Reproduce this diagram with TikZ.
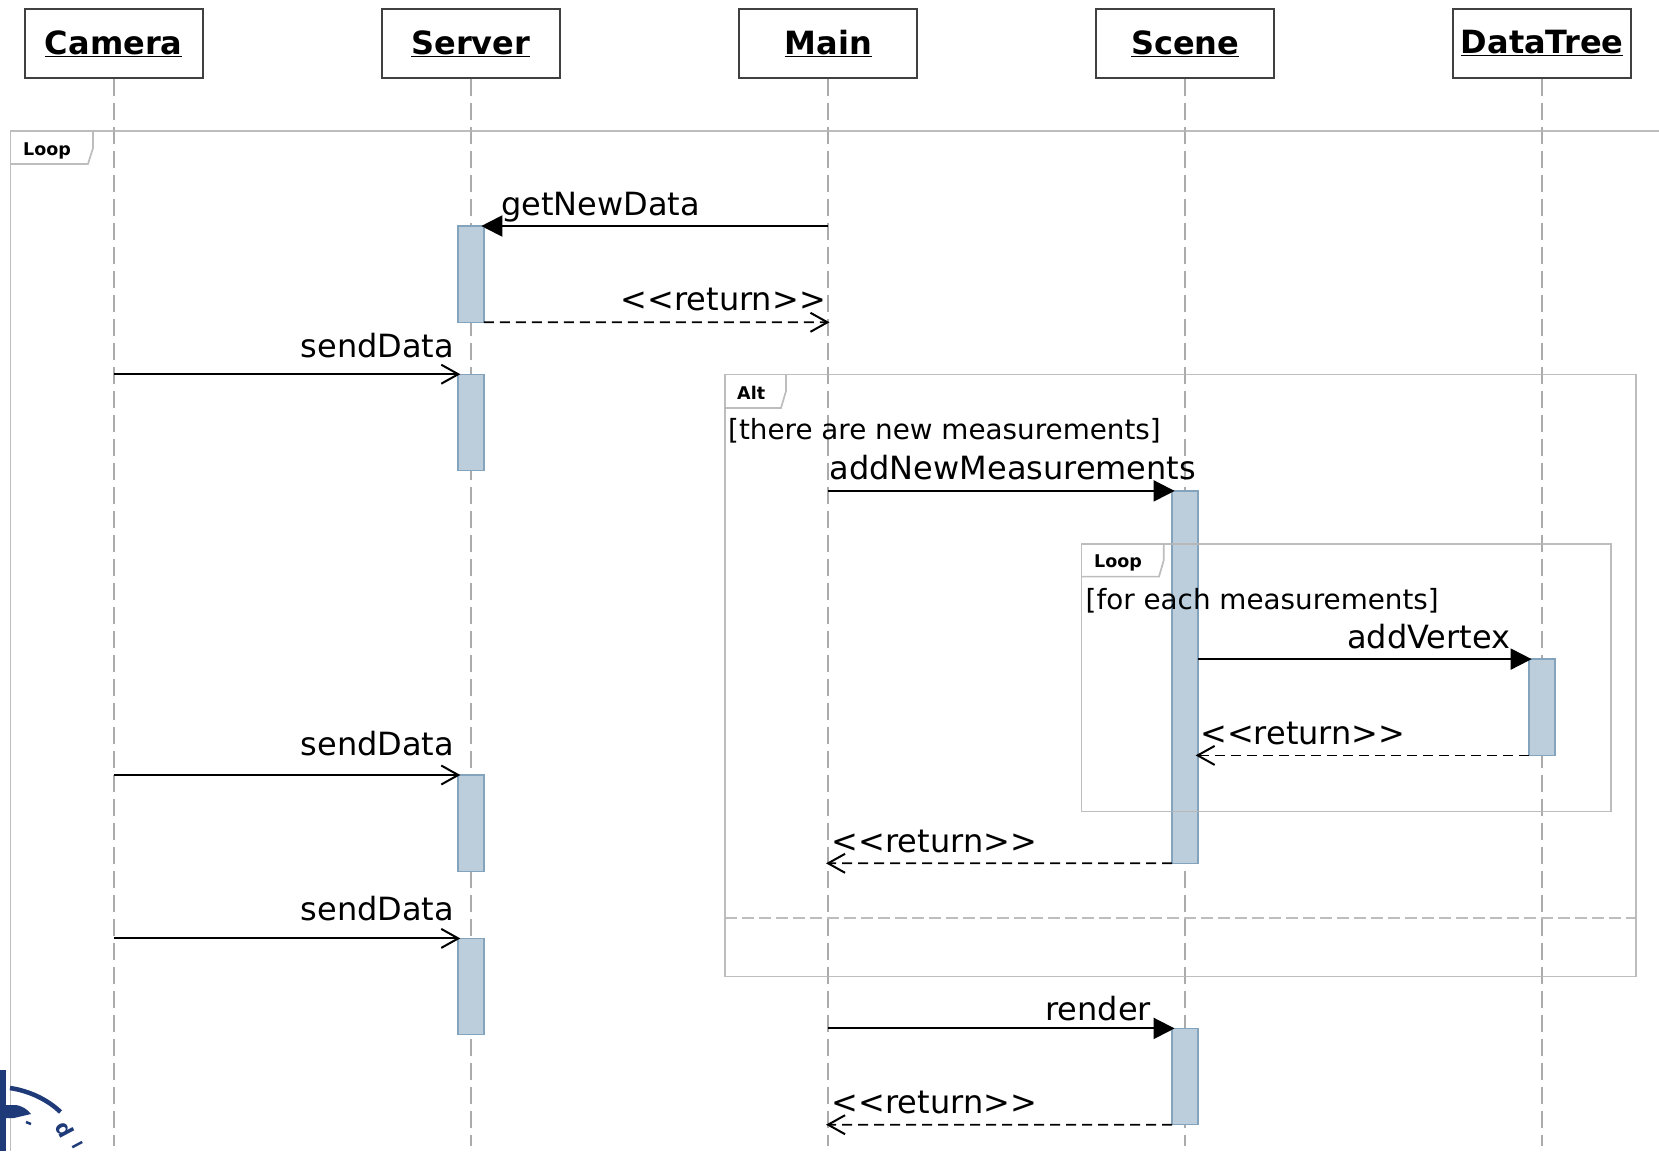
\documentclass[tikz,border=0pt]{standalone}
\usepackage{fontspec}
\setmainfont{DejaVu Sans}
\usetikzlibrary{arrows.meta}
\definecolor{framegray}{HTML}{B6B6B6}
\definecolor{lifegray}{HTML}{ABABAB}
\definecolor{boxgray}{HTML}{404040}
\definecolor{actfill}{HTML}{BCCEDC}
\definecolor{actdraw}{HTML}{84A3BD}
\definecolor{sealblue}{HTML}{1F3A78}

\begin{document}
\begin{tikzpicture}[
    x=1pt, y=-1pt,
    actor/.style={rectangle, draw=boxgray, line width=1.8pt, fill=white, minimum width=178pt, minimum height=69pt, inner sep=0pt, font=\fontsize{32}{32}\selectfont\bfseries},
    lifeline/.style={draw=lifegray, line width=2pt, dash pattern=on 17pt off 7pt},
    activation/.style={rectangle, draw=actdraw, line width=1.4pt, fill=actfill, minimum width=26pt, inner sep=0pt, outer sep=0pt, anchor=north},
    frameline/.style={draw=framegray, line width=1.7pt, draw opacity=0.9},
    syncmsg/.style={line width=2pt, shorten >=-2.5pt, -{Triangle[length=21pt,width=21pt]}},
    asyncmsg/.style={line width=2pt, shorten >=-2.5pt, -{Straight Barb[length=17pt,width=19pt,line width=2pt]}},
    returnmsg/.style={line width=1.8pt, dash pattern=on 10pt off 6pt, -{Straight Barb[length=17pt,width=19pt,line width=2pt]}},
    msglabel/.style={anchor=base west, inner sep=0pt, font=\fontsize{32}{32}\selectfont},
    guardlabel/.style={anchor=base west, inner sep=0pt, font=\fontsize{27.8}{28}\selectfont},
    framelabel/.style={anchor=base west, inner sep=0pt, font=\fontsize{17.5}{18}\selectfont\bfseries},
    seal/.style={sealblue, line width=4.5pt},
    ]
    \useasboundingbox (0,0) rectangle (1659,1151);

    %Actors
    \node[actor] at (113.7,43.4) (camera) {\underline{Camera}};
    \node[actor] at (470.8,43.4) (server) {\underline{Server}};
    \node[actor] at (828.3,43.4) (main) {\underline{Main}};
    \node[actor] at (1185.1,43.4) (scene) {\underline{Scene}};
    \node[actor] at (1542.1,43.4) (datatree) {\underline{DataTree}};

    %Lifeline ends
    \coordinate (cameraEnd) at (113.7,1146);
    \coordinate (serverEnd) at (470.8,1146);
    \coordinate (mainEnd) at (828.3,1146);
    \coordinate (sceneEnd) at (1185.1,1146);
    \coordinate (datatreeEnd) at (1542.1,1146);

    %Lifelines
    \draw[lifeline] (camera.south) -- (cameraEnd);
    \draw[lifeline] (server.south) -- (serverEnd);
    \draw[lifeline] (main.south) -- (mainEnd);
    \draw[lifeline] (scene.south) -- (sceneEnd);
    \draw[lifeline] (datatree.south) -- (datatreeEnd);

    %Activations
    \node[activation, minimum height=96.3pt] at (470.8,226) (serverA) {};
    \node[activation, minimum height=96.3pt] at (470.8,374.2) (serverB) {};
    \node[activation, minimum height=96.3pt] at (470.8,775) (serverC) {};
    \node[activation, minimum height=96.3pt] at (470.8,938.4) (serverD) {};
    \node[activation, minimum height=372.4pt] at (1185.1,490.9) (sceneA) {};
    \node[activation, minimum height=96.3pt] at (1185.1,1028.4) (sceneB) {};
    \node[activation, minimum height=96.3pt] at (1542.1,659.1) (datatreeA) {};

    %Frames
    \draw[frameline] (1659,131) -- (10.6,131) -- (10.6,1151);
    \draw[frameline] (93,131) -- (93,148) -- (88,164) -- (10.6,164);
    \draw[frameline] (724.7,374.5) rectangle (1635.7,976.5);
    \draw[frameline] (786,374.5) -- (786,391) -- (781,408) -- (724.7,408);
    \draw[frameline, dash pattern=on 12pt off 5pt] (724.7,918.3) -- (1635.7,918.3);
    \draw[frameline] (1081.6,543.8) rectangle (1611.3,811.5);
    \draw[frameline] (1163.8,543.8) -- (1163.8,560) -- (1159,576.6) -- (1081.6,576.6);

    %Frame labels
    \node[framelabel] at (23,155.5) (outerTag) {Loop};
    \node[framelabel] at (737,399.5) (altTag) {Alt};
    \node[framelabel] at (1094,567.5) (innerTag) {Loop};
    \node[guardlabel] at (728,439) (altGuard) {[there are new measurements]};
    \node[guardlabel] at (1085.5,609.4) (innerGuard) {[for each measurements]};

    %Message ends on lifelines
    \coordinate (getStart) at (828.3,226);
    \coordinate (getReturn) at (829.5,322.3);
    \coordinate (sendA) at (113.7,374.2);
    \coordinate (addStart) at (828.3,490.9);
    \coordinate (sendB) at (113.7,775);
    \coordinate (addReturn) at (826,863.3);
    \coordinate (sendC) at (113.7,938.4);
    \coordinate (renderStart) at (828.3,1028.4);
    \coordinate (renderReturn) at (826,1124.7);

    %Messages
    \draw[syncmsg] (getStart) -- (serverA.north east);
    \draw[returnmsg] (serverA.south east) -- (getReturn);
    \draw[asyncmsg] (sendA) -- (serverB.north west);
    \draw[syncmsg] (addStart) -- (sceneA.north west);
    \draw[syncmsg] (sceneA.east |- datatreeA.north) -- (datatreeA.north west);
    \draw[returnmsg, shorten >=-2.5pt] (datatreeA.south west) -- (sceneA.east |- datatreeA.south);
    \draw[asyncmsg] (sendB) -- (serverC.north west);
    \draw[returnmsg] (sceneA.south west) -- (addReturn);
    \draw[asyncmsg] (sendC) -- (serverD.north west);
    \draw[syncmsg] (renderStart) -- (sceneB.north west);
    \draw[returnmsg] (sceneB.south west) -- (renderReturn);

    %Message labels
    \node[msglabel] at (501.2,215.8) (getLabel) {getNewData};
    \node[msglabel] at (620.5,310) (getReturnLabel) {<{}<return>{}>};
    \node[msglabel] at (300.5,357.5) (sendLabelA) {sendData};
    \node[msglabel] at (829.5,479.3) (addLabel) {addNewMeasurements};
    \node[msglabel] at (1347,648) (vertexLabel) {addVertex};
    \node[msglabel] at (1200,744.5) (vertexReturnLabel) {<{}<return>{}>};
    \node[msglabel] at (300.5,755.4) (sendLabelB) {sendData};
    \node[msglabel] at (831.6,852.7) (addReturnLabel) {<{}<return>{}>};
    \node[msglabel] at (300.5,920.4) (sendLabelC) {sendData};
    \node[msglabel] at (1045.3,1020) (renderLabel) {render};
    \node[msglabel] at (831.6,1113) (renderReturnLabel) {<{}<return>{}>};

    %Seal in the corner
    \fill[sealblue] (0,1070) rectangle (5.7,1151);
    \fill[sealblue] (0,1105) -- (14,1105) .. controls (22,1105) and (28,1110) .. (31,1114) -- (14,1118) -- (0,1118) -- cycle;
    \draw[seal] (10,1088) .. controls (30,1091) and (48,1100) .. (60.5,1112);
    \draw[sealblue, line width=2.5pt] (26,1122) -- (31,1124);
    \node[rotate=-62, text=sealblue, inner sep=0pt, font=\fontsize{21}{21}\selectfont\bfseries] at (65,1129) (sealD) {d};
    \node[rotate=-62, text=sealblue, inner sep=0pt, font=\fontsize{15}{15}\selectfont\bfseries] at (78,1145) (sealL) {l};
\end{tikzpicture}
\end{document}
